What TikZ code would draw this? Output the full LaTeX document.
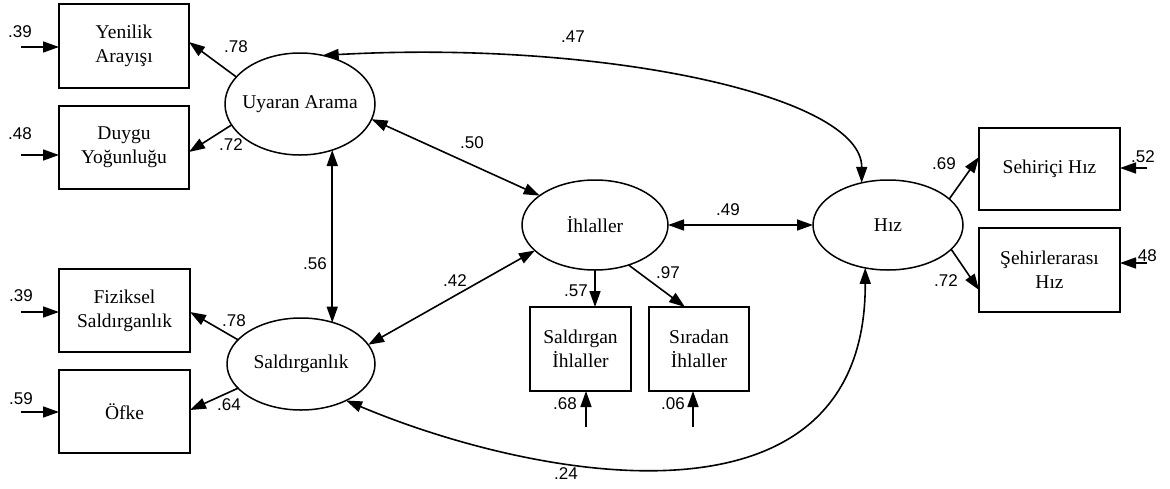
\documentclass[tikz,border=0pt]{standalone}
\usepackage{fontspec}
\setmainfont{Liberation Serif}
\newfontfamily\numfont{Liberation Sans}
\usetikzlibrary{arrows.meta,shapes.geometric,calc}

\begin{document}
\begin{tikzpicture}[x=1pt,y=-1pt,
  every node/.style={inner sep=0pt, outer sep=0pt},
  obs/.style={draw, line width=1.5pt, rectangle, align=center,
    font=\fontsize{19.5}{24}\selectfont},
  lat/.style={draw, line width=1.5pt, ellipse,
    font=\fontsize{19.5}{24}\selectfont},
  coef/.style={font=\numfont\fontsize{17}{18}\selectfont},
  tip/.tip={Triangle[length=16pt,width=11pt]},
  path/.style={line width=1.6pt, -tip},
  cov/.style={line width=1.6pt, tip-tip}]

\fill[white] (0,0) rectangle (1170,488);
\useasboundingbox (0,0) rectangle (1170,488);

% latent variables
\node[lat, minimum width=150pt, minimum height=102pt] (ua) at (300,104) {\makebox[0pt]{Uyaran Arama}};
\node[lat, minimum width=148pt, minimum height=92pt] (sa) at (301,364) {\makebox[0pt]{Saldırganlık}};
\node[lat, minimum width=146pt, minimum height=90pt] (ih) at (595,225) {\makebox[0pt]{İhlaller}};
\node[lat, minimum width=150pt, minimum height=90pt] (hz) at (888,225) {\makebox[0pt]{Hız}};

% observed variables
\node[obs, minimum width=130pt, minimum height=84pt] (yen) at (124,46) {Yenilik\\Arayışı};
\node[obs, minimum width=130pt, minimum height=83pt] (duy) at (124,147.5) {Duygu\\Yoğunluğu};
\node[obs, minimum width=131pt, minimum height=83pt] (fiz) at (124.5,310.5) {Fiziksel\\Saldırganlık};
\node[obs, minimum width=131pt, minimum height=83pt] (ofk) at (124.5,411.5) {Öfke};
\node[obs, minimum width=141pt, minimum height=82pt] (sh) at (1049.5,169) {Sehiriçi Hız};
\node[obs, minimum width=141pt, minimum height=84pt] (se) at (1049.5,270) {Şehirlerarası\\Hız};
\node[obs, minimum width=101pt, minimum height=84pt] (sih) at (580.5,349) {Saldırgan\\İhlaller};
\node[obs, minimum width=100pt, minimum height=84pt] (srd) at (699,349) {Sıradan\\İhlaller};

% error terms
\coordinate (e1) at (21,47);
\coordinate (e2) at (21,155);
\coordinate (e3) at (21,312);
\coordinate (e4) at (21,412);
\coordinate (e5) at (1147,168);
\coordinate (e6) at (1147,263);
\coordinate (e7) at (586,427);
\coordinate (e8) at (693,427);
\draw[path] (e1) -- (e1 -| yen.west);
\draw[path] (e2) -- (e2 -| duy.west);
\draw[path] (e3) -- (e3 -| fiz.west);
\draw[path] (e4) -- (e4 -| ofk.west);
\draw[path] (e5) -- (e5 -| sh.east);
\draw[path] (e6) -- (e6 -| se.east);
\draw[path] (e7) -- (e7 |- sih.south);
\draw[path] (e8) -- (e8 |- srd.south);

% loadings
\draw[path] (ua.157) -- ($(yen.east)+(0,-4)$);
\draw[path] (ua.197) -- ($(duy.east)+(0,4.5)$);
\draw[path] (sa.159) -- ($(fiz.east)+(0,1.5)$);
\draw[path] (sa.201) -- ($(ofk.east)+(0,-1.5)$);
\draw[path] (ih.south) -- (ih.south |- sih.north);
\draw[path] (ih.-50) -- ($(srd.north)+(-14,0)$);
\draw[path] (hz.23) -- ($(sh.west)+(0,-12)$);
\draw[path] (hz.-21) -- ($(se.west)+(0,20)$);

% correlations
\draw[cov] (ua.-55) -- (ua.-55 |- sa.52);
\draw[cov] (ua.-12) -- (ih.152);
\draw[cov] (sa.16) -- (ih.203);
\draw[cov] (ih.east) -- (hz.west);
\draw[cov] (ua.65) .. controls (600,40) and (862,95) .. (hz.122);
\draw[cov] (sa.-39) .. controls (530,478) and (866,545) .. (hz.242);

% coefficients
\node[coef] (c1) at (20,32) {.39};
\node[coef] (c2) at (20,134) {.48};
\node[coef] (c3) at (21,296) {.39};
\node[coef] (c4) at (21,399) {.59};
\node[coef] (c5) at (236,47) {.78};
\node[coef] (c6) at (231,145) {.72};
\node[coef] (c7) at (234,321) {.78};
\node[coef] (c8) at (229,405) {.64};
\node[coef] (c9) at (315,264) {.56};
\node[coef] (c10) at (472,143) {.50};
\node[coef] (c11) at (455,281) {.42};
\node[coef] (c12) at (728,210) {.49};
\node[coef] (c13) at (576,291) {.57};
\node[coef] (c14) at (668,273) {.97};
\node[coef] (c15) at (565,404) {.68};
\node[coef] (c16) at (673,404) {.06};
\node[coef] (c17) at (566,474) {.24};
\node[coef] (c18) at (944,164) {.69};
\node[coef] (c19) at (946,281) {.72};
\node[coef] (c20) at (1143,157) {.52};
\node[coef] (c21) at (1145,256) {.48};
\node[coef] (c22) at (573,37) {.47};
\end{tikzpicture}
\end{document}
